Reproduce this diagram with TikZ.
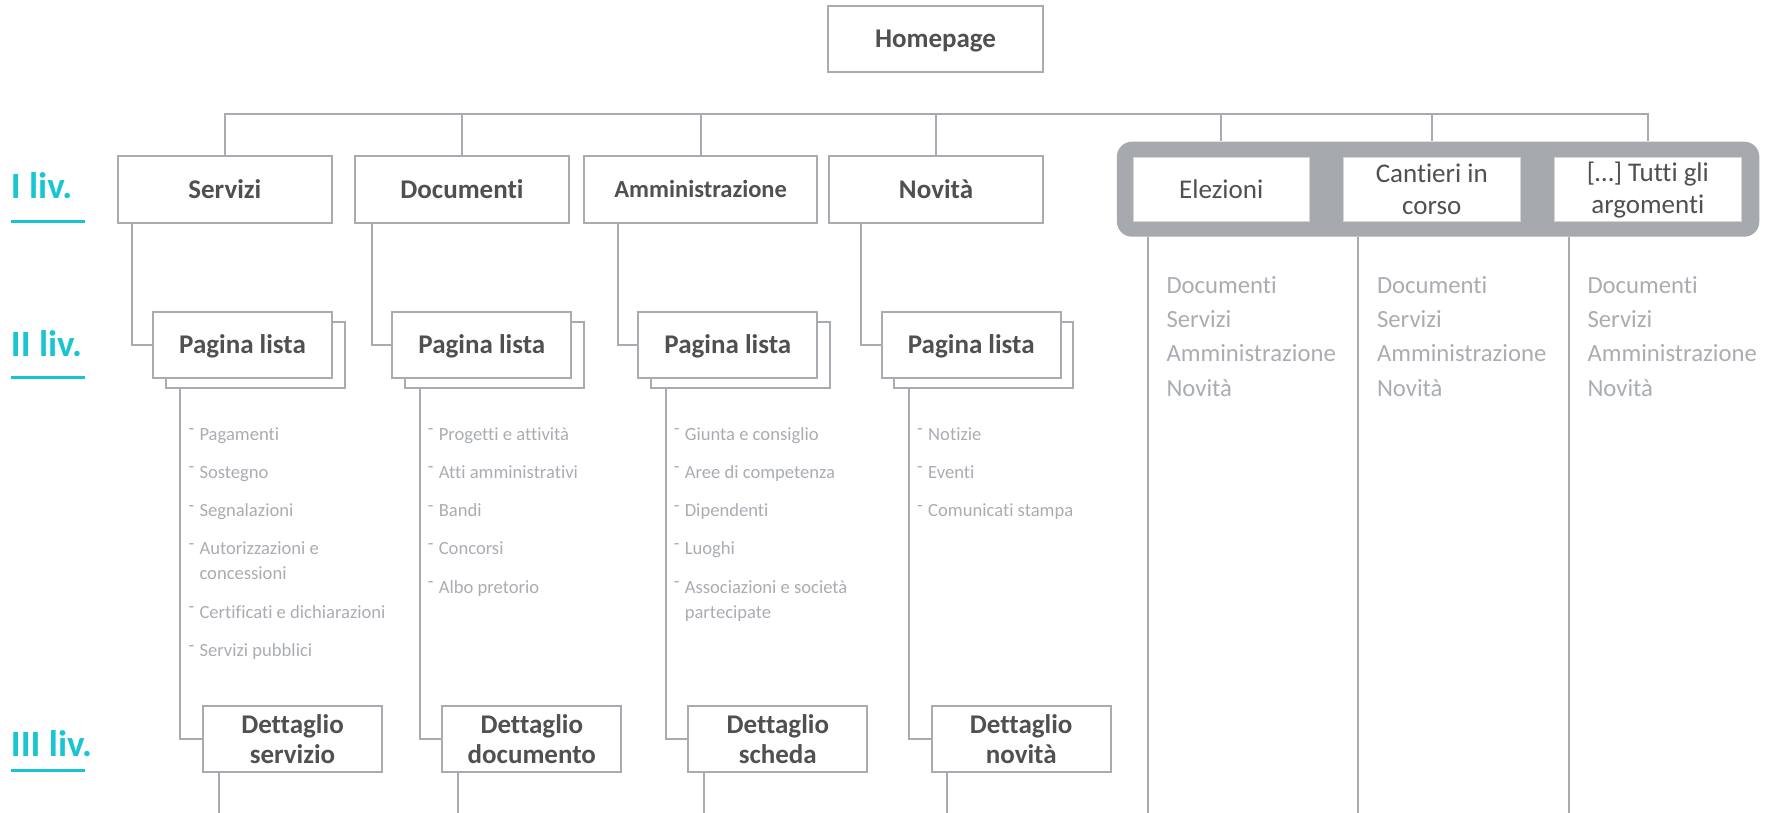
\documentclass[tikz,border=0pt]{standalone}
\usepackage{fontspec}
\setmainfont[Ligatures=CommonOff]{Carlito}
\usetikzlibrary{calc}
\definecolor{linegray}{HTML}{A8ACB1}
\definecolor{panelgray}{HTML}{A6AAAF}
\definecolor{titlegray}{HTML}{505050}
\definecolor{itemgray}{HTML}{A9ADB2}
\definecolor{lvlcyan}{HTML}{19C5D1}
\definecolor{pboxline}{HTML}{D6D6D6}
\newcommand{\itdash}{\makebox[11pt][l]{\raisebox{5.5pt}{-}}}
\begin{document}
\begin{tikzpicture}[x=1pt,y=-1pt,
  conn/.style={draw=linegray,line width=2pt},
  box/.style={draw=linegray,line width=2pt,fill=white,inner sep=0pt,minimum height=66pt,
    text=titlegray,font=\fontsize{27}{30}\selectfont\bfseries,text height=18pt,text depth=0pt},
  boxtwo/.style={draw=linegray,line width=2pt,fill=white,inner sep=0pt,minimum width=179pt,
    minimum height=66pt,text=titlegray,align=center,font=\fontsize{27}{30}\selectfont\bfseries},
  panelbox/.style={fill=panelgray,rounded corners=15pt,inner sep=0pt,minimum width=642.4pt,minimum height=95pt},
  pbox/.style={draw=pboxline,line width=1pt,fill=white,inner sep=0pt,minimum height=64pt,
    text=titlegray,align=center,font=\fontsize{27}{32}\selectfont},
  item/.style={anchor=base west,inner sep=0pt,text=itemgray,font=\fontsize{18.6}{25}\selectfont},
  ritem/.style={anchor=base west,inner sep=0pt,text=itemgray,font=\fontsize{24.7}{34}\selectfont},
  lvl/.style={anchor=base west,inner sep=0pt,text=lvlcyan,font=\fontsize{37}{40}\selectfont\bfseries},
  uline/.style={draw=lvlcyan,line width=2.5pt}]
\useasboundingbox (0,0) rectangle (1779,813);
\coordinate (bus) at (0,114.3);
\coordinate (bot) at (0,813);

% level labels
\node[lvl] (lv1) at (10.7,199) {I liv.};
\node[lvl] (lv2) at (10.7,356) {II liv.};
\node[lvl] (lv3) at (10.7,756) {III liv.};
\draw[uline] (10.7,221.7) -- (84.6,221.7);
\draw[uline] (10.7,377.5) -- (84.6,377.5);
\draw[uline] (10.7,770.7) -- (84.6,770.7);

% homepage and level I
\node[box,minimum width=215pt] (home) at (935.5,38.7) {Homepage};
\node[box,minimum width=213.9pt] (ser) at (224.85,189.5) {Servizi};
\node[box,minimum width=214pt] (doc) at (462,189.5) {Documenti};
\node[box,minimum width=233.3pt,font=\fontsize{24.5}{28}\selectfont\bfseries,text height=16pt] (amm) at (700.65,189.5) {Amministrazione};
\node[box,minimum width=214pt] (nov) at (936,189.5) {Novità};

% topic panel
\node[panelbox] (pan) at (1438.1,189.2) {};
\node[pbox,minimum width=176.4pt] (ele) at (1221.2,189.7) {Elezioni};
\node[pbox,minimum width=176.5pt] (can) at (1431.75,189.7) {Cantieri in\\corso};
\node[pbox,minimum width=187.7pt] (tut) at (1647.85,189.7) {[…] Tutti gli\\argomenti};

% bus
\draw[conn] (ser.north) |- (tut.north |- bus) -- (tut.north |- pan.north);
\foreach \n in {doc,amm,nov} \draw[conn] (\n.north) -- (\n.north |- bus);
\foreach \n in {ele,can} \draw[conn] (\n.north |- pan.north) -- (\n.north |- bus);

% level II and III
\foreach \i/\L/\p/\t in {1/153/ser/{Dettaglio\\servizio},2/392.3/doc/{Dettaglio\\documento},3/638.3/amm/{Dettaglio\\scheda},4/881.7/nov/{Dettaglio\\novità}}{
  \node[box,minimum width=179pt] (pl\i b) at (\L+102.2,355) {};
  \node[box,minimum width=179pt] (pl\i) at (\L+89.5,344.7) {Pagina lista};
  \draw[conn] ($(pl\i.west |- \p.south)+(-19.7,0)$) |- (pl\i.west);
  \node[boxtwo] (dt\i) at (\L+139.5,738.7) {\t};
  \draw[conn] ($(pl\i b.south west)+(15.6,0)$) |- (dt\i.west);
  \coordinate (dd\i) at ($(dt\i.south west)+(16.5,0)$);
  \draw[conn] (dd\i) -- (dd\i |- bot);
}

% items column 1
\node[item] (a1) at (188.3,440) {\itdash Pagamenti};
\node[item] (a2) at (188.3,478.3) {\itdash Sostegno};
\node[item] (a3) at (188.3,516.6) {\itdash Segnalazioni};
\node[item] (a4) at (188.3,554.9) {\itdash Autorizzazioni e};
\node[item] (a4b) at (188.3,579.9) {\hspace*{11pt}concessioni};
\node[item] (a5) at (188.3,618.2) {\itdash Certificati e dichiarazioni};
\node[item] (a6) at (188.3,656.5) {\itdash Servizi pubblici};
% column 2
\node[item] (b1) at (427.6,440) {\itdash Progetti e attività};
\node[item] (b2) at (427.6,478.3) {\itdash Atti amministrativi};
\node[item] (b3) at (427.6,516.6) {\itdash Bandi};
\node[item] (b4) at (427.6,554.9) {\itdash Concorsi};
\node[item] (b5) at (427.6,593.2) {\itdash Albo pretorio};
% column 3
\node[item] (c1) at (673.6,440) {\itdash Giunta e consiglio};
\node[item] (c2) at (673.6,478.3) {\itdash Aree di competenza};
\node[item] (c3) at (673.6,516.6) {\itdash Dipendenti};
\node[item] (c4) at (673.6,554.9) {\itdash Luoghi};
\node[item] (c5) at (673.6,593.2) {\itdash Associazioni e società};
\node[item] (c5b) at (673.6,618.2) {\hspace*{11pt}partecipate};
% column 4
\node[item] (e1) at (917,440) {\itdash Notizie};
\node[item] (e2) at (917,478.3) {\itdash Eventi};
\node[item] (e3) at (917,516.6) {\itdash Comunicati stampa};

% topic columns
\foreach \n/\k in {ele/1,can/2,tut/3}{
  \coordinate (pv\k) at ($(\n.west |- pan.south)+(15.3,0)$);
  \draw[conn] (pv\k) -- (pv\k |- bot);
  \node[ritem] (r\k a) at ($(pv\k)+(18.5,56.6)$) {Documenti};
  \node[ritem] (r\k b) at ($(pv\k)+(18.5,90.8)$) {Servizi};
  \node[ritem] (r\k c) at ($(pv\k)+(18.5,125)$) {Amministrazione};
  \node[ritem] (r\k d) at ($(pv\k)+(18.5,159.2)$) {Novità};
}
\end{tikzpicture}
\end{document}
